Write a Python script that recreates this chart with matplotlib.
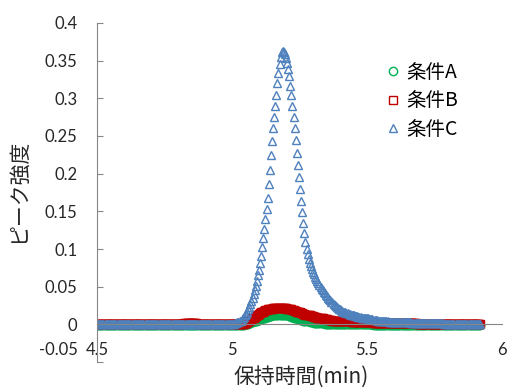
import numpy as np
import matplotlib
matplotlib.use("Agg")
from matplotlib import pyplot as plt
import matplotlib.transforms as mtransforms

plt.rcParams['font.family'] = ['Lato', 'Noto Sans CJK JP', 'DejaVu Sans']
jp = ['Noto Sans CJK JP', 'DejaVu Sans']

# sampling grid of the chromatogram (min), one point every 0.004 min
t_start, t_stop, t_step = 4.500, 5.920, 0.004

# --- 条件C (blue triangles) ---
c_pre = [
    0.000, 0.000, 0.000, 0.000, 0.000, 0.000, 0.000, 0.000, 0.000, 0.000, 0.000, 0.000, 0.000, 0.000, 0.000, 0.000, 0.000, 0.000, 0.000, 0.000, 0.000, 0.000, 0.000, 0.000, 0.000,
    0.000, 0.000, 0.000, 0.000, 0.000, 0.000, 0.000, 0.000, 0.000, 0.000, 0.000, 0.000, 0.000, 0.000, 0.000, 0.000, 0.000, 0.000, 0.000, 0.000, 0.000, 0.000, 0.000, 0.000, 0.000,
    0.000, 0.000, 0.000, 0.000, 0.000, 0.000, 0.000, 0.000, 0.000, 0.000, 0.000, 0.000, 0.000, 0.000, 0.000, 0.000, 0.000, 0.000, 0.000, 0.000, 0.000, 0.000, 0.000, 0.000, 0.000,
    0.000, 0.000, 0.000, 0.000, 0.000, 0.000, 0.000, 0.000, 0.000, 0.000, 0.000, 0.000, 0.000, 0.000, 0.000, 0.000, 0.000, 0.000, 0.000, 0.000, 0.000, 0.000, 0.000, 0.000, 0.000,
    0.000, 0.000, 0.000, 0.000, 0.000, 0.000, 0.000, 0.000, 0.000, 0.000, 0.000, 0.000, 0.000, 0.000, 0.000, 0.000, 0.000, 0.000, 0.000, 0.000, 0.000, 0.000, 0.000, 0.000, 0.000,
]
c_peak = [
    0.001, 0.001, 0.001, 0.002, 0.002, 0.003, 0.003, 0.004, 0.005, 0.006,
    0.008, 0.010, 0.012, 0.014, 0.017, 0.020, 0.023, 0.027, 0.031, 0.035,
    0.040, 0.045, 0.051, 0.058, 0.065, 0.072, 0.081, 0.091, 0.103, 0.115,
    0.127, 0.140, 0.153, 0.168, 0.186, 0.205, 0.225, 0.244, 0.260, 0.275,
    0.290, 0.305, 0.320, 0.334, 0.346, 0.355, 0.361, 0.363, 0.362, 0.359,
    0.354, 0.347, 0.339, 0.329, 0.317, 0.305, 0.290, 0.275, 0.260, 0.245,
    0.228, 0.211, 0.195, 0.180, 0.164, 0.149, 0.135, 0.121, 0.109, 0.100,
    0.093, 0.087, 0.082, 0.078, 0.074, 0.070, 0.067, 0.063, 0.060, 0.057,
    0.055, 0.052, 0.050, 0.047, 0.045, 0.043, 0.041, 0.039, 0.037, 0.035,
    0.034, 0.032, 0.030, 0.029, 0.027, 0.026, 0.025, 0.023, 0.022, 0.021,
    0.020, 0.019, 0.018, 0.017, 0.017, 0.016, 0.015, 0.015, 0.014, 0.014,
    0.013, 0.013, 0.012, 0.012, 0.011, 0.011, 0.011, 0.010, 0.010, 0.010,
    0.009, 0.009, 0.009, 0.008, 0.008, 0.008, 0.008, 0.007, 0.007, 0.007,
    0.007, 0.006, 0.006, 0.006, 0.006, 0.005, 0.005, 0.005, 0.005, 0.005,
    0.004, 0.004, 0.004, 0.004, 0.004, 0.003, 0.003, 0.003, 0.003, 0.003,
    0.003,
]
c_post = [
    0.003, 0.003, 0.003, 0.003, 0.003, 0.003, 0.003, 0.003, 0.003, 0.003, 0.003, 0.003, 0.003, 0.003, 0.003, 0.002, 0.002, 0.002, 0.002, 0.002,
    0.002, 0.002, 0.002, 0.002, 0.002, 0.002, 0.002, 0.002, 0.002, 0.002, 0.002, 0.002, 0.002, 0.002, 0.002, 0.002, 0.002, 0.002, 0.002, 0.002,
    0.002, 0.002, 0.002, 0.002, 0.002, 0.001, 0.001, 0.001, 0.001, 0.001, 0.001, 0.001, 0.001, 0.001, 0.001, 0.001, 0.001, 0.001, 0.001, 0.001,
    0.001, 0.001, 0.001, 0.001, 0.001, 0.001, 0.001, 0.001, 0.001, 0.001, 0.001, 0.001, 0.001, 0.001, 0.001, 0.001, 0.001, 0.001, 0.001, 0.001,
]

# --- 条件B (red squares) ---
b_pre = [
    0.001, 0.001, 0.001, 0.001, 0.001, 0.001, 0.001, 0.001, 0.001, 0.001, 0.001, 0.001, 0.001, 0.001, 0.001, 0.001, 0.001, 0.001, 0.001, 0.001, 0.001, 0.001, 0.001, 0.001, 0.001,
    0.001, 0.001, 0.001, 0.001, 0.001, 0.001, 0.001, 0.001, 0.001, 0.001, 0.001, 0.001, 0.001, 0.001, 0.001, 0.001, 0.001, 0.001, 0.001, 0.001, 0.001, 0.001, 0.001, 0.001, 0.001,
    0.001, 0.001, 0.001, 0.001, 0.001, 0.001, 0.001, 0.001, 0.001, 0.001, 0.001, 0.001, 0.001, 0.001, 0.001, 0.001, 0.001, 0.001, 0.001, 0.001, 0.001, 0.001, 0.001, 0.001, 0.001,
    0.001, 0.001, 0.001, 0.001, 0.001, 0.001, 0.002, 0.002, 0.002, 0.002, 0.002, 0.002, 0.002, 0.002, 0.002, 0.002, 0.002, 0.002, 0.001, 0.001, 0.001, 0.001, 0.001, 0.001, 0.001,
    0.001, 0.001, 0.001, 0.001, 0.001, 0.001, 0.001, 0.001, 0.001, 0.001, 0.001, 0.001, 0.001, 0.001, 0.001, 0.001, 0.001, 0.001, 0.001, 0.001, 0.001, 0.001, 0.001, 0.001, 0.001,
]
b_peak = [
    0.001, 0.001, 0.001, 0.001, 0.001, 0.001, 0.001, 0.001, 0.001, 0.001,
    0.001, 0.001, 0.002, 0.002, 0.003, 0.004, 0.005, 0.006, 0.007, 0.008,
    0.009, 0.010, 0.011, 0.012, 0.013, 0.014, 0.015, 0.016, 0.017, 0.017,
    0.018, 0.019, 0.019, 0.020, 0.020, 0.021, 0.021, 0.021, 0.022, 0.022,
    0.022, 0.022, 0.022, 0.022, 0.022, 0.022, 0.022, 0.022, 0.022, 0.022,
    0.022, 0.021, 0.021, 0.021, 0.020, 0.020, 0.019, 0.019, 0.018, 0.018,
    0.017, 0.017, 0.016, 0.016, 0.015, 0.015, 0.014, 0.014, 0.013, 0.013,
    0.012, 0.012, 0.012, 0.011, 0.011, 0.011, 0.010, 0.010, 0.010, 0.009,
    0.009, 0.009, 0.008, 0.008, 0.008, 0.007, 0.007, 0.007, 0.007, 0.006,
    0.006, 0.006, 0.006, 0.005, 0.005, 0.005, 0.005, 0.005, 0.004, 0.004,
    0.004, 0.004, 0.004, 0.004, 0.004, 0.004, 0.004, 0.004, 0.004, 0.004,
    0.004, 0.003, 0.003, 0.003, 0.003, 0.003, 0.003, 0.003, 0.003, 0.003,
    0.003, 0.003, 0.003, 0.003, 0.003, 0.003, 0.003, 0.003, 0.003, 0.003,
    0.003, 0.002, 0.002, 0.002, 0.002, 0.002, 0.002, 0.002, 0.002, 0.002,
    0.002, 0.002, 0.002, 0.002, 0.002, 0.002, 0.002, 0.002, 0.002, 0.002,
    0.002,
]
b_post = [
    0.002, 0.002, 0.002, 0.002, 0.002, 0.002, 0.002, 0.002, 0.002, 0.002, 0.002, 0.002, 0.002, 0.002, 0.002, 0.002, 0.002, 0.002, 0.002, 0.002,
    0.001, 0.001, 0.001, 0.001, 0.001, 0.001, 0.001, 0.001, 0.001, 0.001, 0.001, 0.001, 0.001, 0.001, 0.001, 0.001, 0.001, 0.001, 0.001, 0.001,
    0.001, 0.001, 0.001, 0.001, 0.001, 0.001, 0.001, 0.001, 0.001, 0.001, 0.001, 0.001, 0.001, 0.001, 0.001, 0.001, 0.001, 0.001, 0.001, 0.001,
    0.001, 0.001, 0.001, 0.001, 0.001, 0.001, 0.001, 0.001, 0.001, 0.001, 0.001, 0.001, 0.001, 0.001, 0.001, 0.001, 0.001, 0.001, 0.001, 0.001,
]

# --- 条件A (green circles) ---
a_pre = [
    -0.001, -0.001, -0.001, -0.001, -0.001, -0.001, -0.001, -0.001, -0.001, -0.001, -0.001, -0.001, -0.001, -0.001, -0.001, -0.001, -0.001, -0.001, -0.001, -0.001, -0.001, -0.001, -0.001, -0.001, -0.001,
    -0.001, -0.001, -0.001, -0.001, -0.001, -0.001, -0.001, -0.001, -0.001, -0.001, -0.001, -0.001, -0.001, -0.001, -0.001, -0.001, -0.001, -0.001, -0.001, -0.001, -0.001, -0.001, -0.001, -0.001, -0.001,
    -0.001, -0.001, -0.001, -0.001, -0.001, -0.001, -0.001, -0.001, -0.001, -0.001, -0.001, -0.001, -0.001, -0.001, -0.001, -0.001, -0.001, -0.001, -0.001, -0.001, -0.001, -0.001, -0.001, -0.001, -0.001,
    -0.001, -0.001, -0.001, -0.001, -0.001, -0.001, -0.001, -0.001, -0.001, -0.001, -0.001, -0.001, -0.001, -0.001, -0.001, -0.001, -0.001, -0.001, -0.001, -0.001, -0.001, -0.001, -0.001, -0.001, -0.001,
    -0.001, -0.001, -0.001, -0.001, -0.001, -0.001, -0.001, -0.001, -0.001, -0.001, -0.001, -0.001, -0.001, -0.001, -0.001, -0.001, -0.001, -0.001, -0.001, -0.001, -0.001, -0.001, -0.001, -0.001, -0.001,
]
a_peak = [
    -0.001, -0.001, -0.001, -0.001, -0.001, -0.001, -0.001, -0.001, -0.001, -0.001,
    -0.001, -0.001, 0.000, 0.000, 0.001, 0.001, 0.002, 0.002, 0.003, 0.003,
    0.004, 0.004, 0.005, 0.005, 0.006, 0.006, 0.007, 0.007, 0.008, 0.008,
    0.009, 0.009, 0.010, 0.010, 0.011, 0.011, 0.011, 0.012, 0.012, 0.012,
    0.012, 0.013, 0.013, 0.013, 0.013, 0.013, 0.013, 0.013, 0.013, 0.013,
    0.012, 0.012, 0.012, 0.011, 0.011, 0.010, 0.010, 0.009, 0.009, 0.008,
    0.008, 0.007, 0.007, 0.006, 0.006, 0.006, 0.005, 0.005, 0.005, 0.004,
    0.004, 0.004, 0.003, 0.003, 0.003, 0.003, 0.002, 0.002, 0.002, 0.002,
    0.002, 0.002, 0.002, 0.002, 0.002, 0.002, 0.001, 0.001, 0.001, 0.001,
    0.001, 0.001, 0.001, 0.001, 0.001, 0.001, 0.001, 0.001, 0.001, 0.001,
    0.001, 0.001, 0.001, 0.001, 0.001, 0.001, 0.000, 0.000, 0.000, 0.000,
    0.000, 0.000, 0.000, 0.000, 0.000, 0.000, 0.000, 0.000, 0.000, 0.000,
    0.000, 0.000, 0.000, 0.000, 0.000, 0.000, 0.000, 0.000, 0.000, 0.000,
    0.000, -0.001, -0.001, -0.001, -0.001, -0.001, -0.001, -0.001, -0.001, -0.001,
    -0.001, -0.001, -0.001, -0.001, -0.001, -0.001, -0.001, -0.001, -0.001, -0.001,
    -0.001,
]
a_post = [
    -0.001, -0.001, -0.001, -0.001, -0.001, -0.001, -0.001, -0.001, -0.001, -0.001, -0.001, -0.001, -0.001, -0.001, -0.001, -0.001, -0.001, -0.001, -0.001, -0.001,
    -0.001, -0.001, -0.001, -0.001, -0.001, -0.001, -0.001, -0.001, -0.001, -0.001, -0.001, -0.001, -0.001, -0.001, -0.001, -0.001, -0.001, -0.001, -0.001, -0.001,
    -0.001, -0.001, -0.001, -0.001, -0.001, -0.001, -0.001, -0.001, -0.001, -0.001, -0.001, -0.001, -0.001, -0.001, -0.001, -0.001, -0.001, -0.001, -0.001, -0.001,
    -0.001, -0.001, -0.001, -0.001, -0.001, -0.001, -0.001, -0.001, -0.001, -0.001, -0.001, -0.001, -0.001, -0.001, -0.001, -0.001, -0.001, -0.001, -0.001, -0.001,
]

series_names = ['条件A', '条件B', '条件C']
xticks = [4.5, 5, 5.5, 6]
xtick_labels = ['4.5', '5', '5.5', '6']
yticks = [-0.05, 0, 0.05, 0.1, 0.15, 0.2, 0.25, 0.3, 0.35, 0.4]
ytick_labels = ['-0.05', '0', '0.05', '0.1', '0.15', '0.2', '0.25', '0.3', '0.35', '0.4']

times = np.round(np.arange(t_start, t_stop + t_step / 2, t_step), 3)
cond_a = np.array(a_pre + a_peak + a_post)
cond_b = np.array(b_pre + b_peak + b_post)
cond_c = np.array(c_pre + c_peak + c_post)

fig = plt.figure(figsize=(5.1, 3.88), dpi=100)
ax = fig.add_axes([97 / 510, 1 - 362 / 388, 405 / 510, 339 / 388])

ax.plot(times, cond_a, 'o', ms=6, mfc='none', mec='#00B050', mew=1.0, label=series_names[0])
ax.plot(times, cond_b, 's', ms=6, mfc='none', mec='#C00000', mew=1.0, label=series_names[1])
ax.plot(times, cond_c, '^', ms=6, mfc='none', mec='#4F81BD', mew=1.0, label=series_names[2])

ax.set_xlim(4.5, 6)
ax.set_ylim(-0.05, 0.4)
ax.set_xticks(xticks)
ax.set_xticklabels(xtick_labels)
ax.set_yticks(yticks)
ax.set_yticklabels(ytick_labels)

for side in ['top', 'right']:
    ax.spines[side].set_visible(False)
ax.spines['left'].set_color('#868686')
ax.spines['bottom'].set_color('#868686')
ax.spines['bottom'].set_position(('data', 0))

ax.tick_params(axis='y', direction='in', length=4, color='#868686', pad=14, labelsize=12, labelcolor='#262626')
ax.tick_params(axis='x', length=0, pad=13, labelsize=12, labelcolor='#262626')

# excel pushes the lowest y label up a bit
lab = ax.yaxis.get_major_ticks()[0].label1
lab.set_transform(lab.get_transform() + mtransforms.ScaledTranslation(0, 10 / 72, fig.dpi_scale_trans))

fig.text(18 / 510, 1 - 191 / 388, 'ピーク強度', rotation=90, ha='center', va='center', fontsize=15, family=jp, color='#262626')
fig.text(301 / 510, 1 - 377 / 388, '保持時間(min)', ha='center', va='center', fontsize=15, family=jp, color='#262626')

ax.legend(loc='upper left', bbox_to_anchor=(0.711, 0.885), frameon=False, prop={'family': jp, 'size': 14},
          handlelength=0.8, handletextpad=0.3, labelspacing=0.38, borderpad=0, borderaxespad=0)

fig.savefig('out.png', dpi=100)
